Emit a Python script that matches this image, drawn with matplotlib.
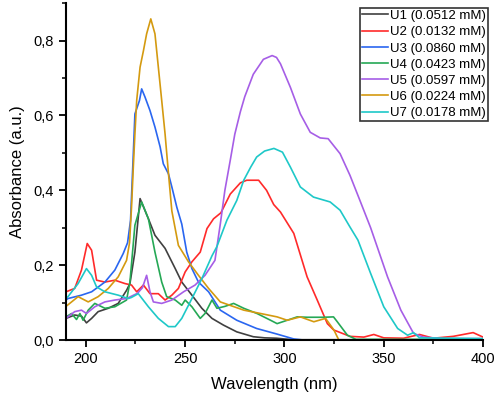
import matplotlib
matplotlib.use("Agg")
import matplotlib.pyplot as plt
from matplotlib.ticker import MultipleLocator, FuncFormatter

plt.rcParams['font.family'] = ['Liberation Sans', 'DejaVu Sans']

# Series (wavelength in nm, absorbance in a.u.)
labels = ['U1 (0.0512 mM)', 'U2 (0.0132 mM)', 'U3 (0.0860 mM)', 'U4 (0.0423 mM)',
          'U5 (0.0597 mM)', 'U6 (0.0224 mM)', 'U7 (0.0178 mM)']
colors = ['#404040', '#ff2a2a', '#2a66f0', '#25a855', '#a65ee6', '#d49a10', '#1ec8c8']

wl_u1 = [190, 194.4, 197.8, 200.3, 202.9, 206.2, 211.3, 216.3, 220.5, 222.2, 224.7, 227.3,
         231.5, 234.8, 239.9, 245, 248.3, 253.4, 258.4, 263.5, 269.3, 276, 284.3, 290,
         296, 300, 305, 400]
a_u1 = [0.058, 0.067, 0.064, 0.046, 0.058, 0.076, 0.085, 0.098, 0.133, 0.151, 0.235, 0.378,
        0.324, 0.28, 0.245, 0.191, 0.155, 0.12, 0.085, 0.058, 0.04, 0.022, 0.009, 0.006,
        0.005, 0.003, 0.001, 0.001]

wl_u2 = [190, 194.4, 197.8, 200.7, 202.9, 205.4, 209.6, 214.6, 219.7, 223, 225.6, 229,
         232.3, 236.5, 239.9, 243.3, 246.6, 250, 253.4, 257.6, 261, 264.3, 268, 272.7,
         277.8, 281, 287, 291, 294.6, 298, 304.7, 311.4, 316.5, 321.6, 324.8, 333, 340,
         345, 350, 360, 368, 375, 385, 395, 400]
a_u2 = [0.129, 0.138, 0.187, 0.258, 0.24, 0.16, 0.155, 0.16, 0.151, 0.147, 0.129, 0.147,
        0.124, 0.124, 0.107, 0.12, 0.138, 0.182, 0.209, 0.235, 0.298, 0.324, 0.34, 0.39,
        0.42, 0.427, 0.427, 0.4, 0.362, 0.342, 0.285, 0.169, 0.107, 0.044, 0.027, 0.01,
        0.008, 0.015, 0.006, 0.005, 0.015, 0.005, 0.01, 0.02, 0.008]

wl_u3 = [190, 191, 197.8, 202.9, 209.6, 214.6, 218.8, 221, 222.5, 223.9, 224.7, 227, 228.1,
         229.8, 232.3, 234.8, 237.4, 239, 241.6, 243.3, 245.8, 248.3, 250.8, 253.4, 256.7,
         261.8, 267.7, 276, 286, 296.3, 304.7, 310, 400]
a_u3 = [0.107, 0.111, 0.12, 0.129, 0.155, 0.187, 0.231, 0.26, 0.32, 0.498, 0.604, 0.64, 0.671,
        0.649, 0.613, 0.569, 0.516, 0.471, 0.444, 0.409, 0.355, 0.31, 0.235, 0.191, 0.155,
        0.129, 0.08, 0.053, 0.031, 0.016, 0.003, 0.0, 0.0]

wl_u4 = [190, 192.8, 195.3, 197, 198.6, 201.2, 204.5, 209.6, 214.6, 220.5, 222.2, 224.7,
         228.1, 231.5, 234.8, 238.2, 240.7, 245, 248.3, 250, 253.4, 257.6, 260, 263.5, 266,
         270, 274.4, 279.5, 286.2, 293, 296.3, 301.4, 306.4, 311.5, 319.8, 324.7, 326.6,
         331.7, 336, 400]
a_u4 = [0.062, 0.071, 0.055, 0.071, 0.053, 0.08, 0.098, 0.085, 0.089, 0.107, 0.155, 0.307,
        0.369, 0.324, 0.235, 0.155, 0.116, 0.107, 0.093, 0.107, 0.089, 0.058, 0.071, 0.107,
        0.085, 0.09, 0.098, 0.085, 0.071, 0.053, 0.044, 0.053, 0.062, 0.061, 0.061, 0.062,
        0.049, 0.013, 0.002, 0.002]

wl_u5 = [190, 194.4, 197.8, 200.3, 204.5, 209.6, 214.6, 220.5, 226, 228.5, 230.6, 232.3, 234,
         238.2, 243.3, 249.2, 255, 260, 265, 267.7, 270, 272.7, 275, 277.8, 280, 284.3,
         289.4, 293.8, 296, 298, 303, 308, 313, 318, 322, 328, 333, 338, 343.4, 351.9,
         358.6, 365, 370, 380, 400]
a_u5 = [0.058, 0.076, 0.08, 0.071, 0.089, 0.102, 0.107, 0.111, 0.125, 0.14, 0.173, 0.129,
        0.102, 0.098, 0.107, 0.129, 0.147, 0.173, 0.213, 0.31, 0.4, 0.48, 0.55, 0.61, 0.65,
        0.71, 0.75, 0.76, 0.755, 0.738, 0.675, 0.604, 0.555, 0.54, 0.538, 0.498, 0.44,
        0.373, 0.3, 0.169, 0.08, 0.018, 0.008, 0.004, 0.004]

wl_u6 = [190, 196.1, 201.2, 206.2, 211.3, 216.3, 220.5, 222, 223, 223.9, 224.7, 225.6, 227.3,
         229, 230.6, 232.7, 234.8, 236.5, 238.2, 239.9, 241.6, 243.3, 246.6, 251.7, 256.7,
         261.8, 267.7, 279.5, 288, 296.3, 301.4, 308, 314.8, 320.7, 324.9, 327.4, 400]
a_u6 = [0.09, 0.116, 0.102, 0.116, 0.138, 0.169, 0.213, 0.26, 0.355, 0.462, 0.55, 0.64, 0.729,
        0.773, 0.818, 0.858, 0.818, 0.729, 0.64, 0.55, 0.445, 0.345, 0.253, 0.209, 0.173,
        0.138, 0.102, 0.08, 0.071, 0.062, 0.053, 0.062, 0.049, 0.058, 0.027, 0.0, 0.0]

wl_u7 = [190, 191, 196.1, 200.3, 202.9, 205.4, 209.6, 216.3, 221.4, 223, 226.4, 231.5, 236.5,
         241.6, 245, 248.3, 253.4, 258.4, 263.5, 266, 271, 272.7, 276, 279.5, 283, 286, 290,
         294.7, 299, 303, 308, 314.6, 323, 328, 333, 337, 343.4, 350, 357, 362, 365, 368, 400]
a_u7 = [0.112, 0.116, 0.151, 0.191, 0.173, 0.142, 0.129, 0.12, 0.111, 0.114, 0.124, 0.089,
        0.058, 0.036, 0.036, 0.058, 0.111, 0.164, 0.225, 0.25, 0.32, 0.338, 0.373, 0.427,
        0.462, 0.489, 0.505, 0.512, 0.502, 0.462, 0.409, 0.382, 0.369, 0.347, 0.302, 0.267,
        0.178, 0.089, 0.031, 0.013, 0.02, 0.006, 0.004]

series = [(wl_u1, a_u1), (wl_u2, a_u2), (wl_u3, a_u3), (wl_u4, a_u4),
          (wl_u5, a_u5), (wl_u6, a_u6), (wl_u7, a_u7)]

fig = plt.figure(figsize=(4.98, 3.95), dpi=100)
ax = fig.add_axes([0.1325, 0.139, 0.8375, 0.853])

for (x, y), lab, c in zip(series, labels, colors):
    ax.plot(x, y, color=c, linewidth=1.2, label=lab, solid_joinstyle='round')

ax.set_xlim(190, 400)
ax.set_ylim(0, 0.9)

# only left and bottom axis lines
ax.spines['top'].set_visible(False)
ax.spines['right'].set_visible(False)
ax.spines['left'].set_linewidth(1.5)
ax.spines['bottom'].set_linewidth(1.5)

ax.xaxis.set_major_locator(MultipleLocator(50))
ax.xaxis.set_minor_locator(MultipleLocator(25))
ax.yaxis.set_major_locator(MultipleLocator(0.2))
ax.yaxis.set_minor_locator(MultipleLocator(0.1))
ax.yaxis.set_major_formatter(FuncFormatter(lambda v, p: f"{v:.1f}".replace('.', ',')))
ax.tick_params(which='major', direction='out', length=5, width=1.3, labelsize=10.5, colors='black')
ax.tick_params(which='minor', direction='out', length=3, width=1.1)

ax.set_xlabel('Wavelength (nm)', fontsize=12, labelpad=8)
ax.set_ylabel('Absorbance (a.u.)', fontsize=12, labelpad=6)

leg = ax.legend(loc='upper right', bbox_to_anchor=(0.98, 0.98), bbox_transform=fig.transFigure,
                fontsize=9.5, frameon=True, fancybox=False, borderpad=0.15, borderaxespad=0,
                handlelength=2.0, handletextpad=0.15, labelspacing=0.3)
leg.get_frame().set_edgecolor('#333333')
leg.get_frame().set_linewidth(1.2)
leg.get_frame().set_alpha(1)

fig.savefig('out.png', dpi=100)
